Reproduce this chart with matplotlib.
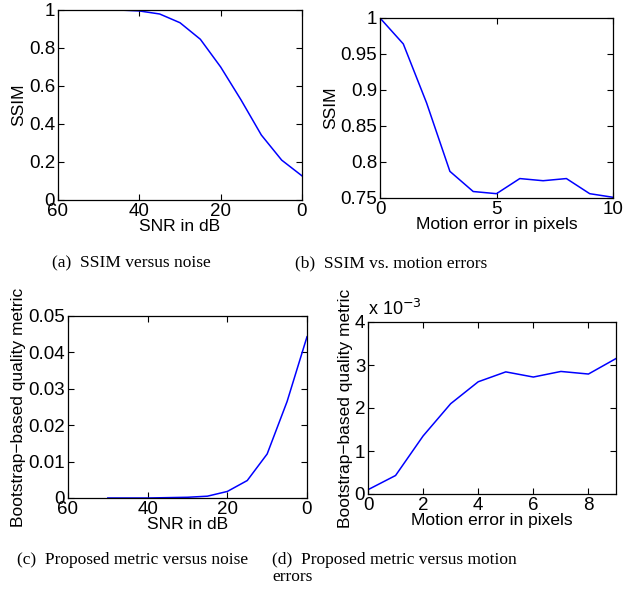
import matplotlib
matplotlib.use("Agg")
import matplotlib.pyplot as plt
from matplotlib.ticker import FuncFormatter

# ---- data ----
snr_db = [50, 45, 40, 35, 30, 25, 20, 15, 10, 5, 0]
ssim_noise = [1.0, 1.0, 0.995, 0.979, 0.933, 0.846, 0.700, 0.527, 0.342, 0.210, 0.127]

motion_a = [0, 1, 2, 3, 4, 5, 6, 7, 8, 9, 10]
ssim_motion = [1.0, 0.964, 0.882, 0.787, 0.759, 0.756, 0.777, 0.774, 0.777, 0.756, 0.751]

boot_noise = [0.0, 0.0, 0.0, 0.0001, 0.0002, 0.0005, 0.0018, 0.0048, 0.0121, 0.0265, 0.0443]

motion_b = [0, 1, 2, 3, 4, 5, 6, 7, 8, 9]
boot_motion = [0.10e-3, 0.43e-3, 1.35e-3, 2.10e-3, 2.61e-3, 2.84e-3, 2.72e-3, 2.85e-3, 2.79e-3, 3.15e-3]

captions = ["(a)  SSIM versus noise", "(b)  SSIM vs. motion errors",
            "(c)  Proposed metric versus noise", "(d)  Proposed metric versus motion\nerrors"]

W, H = 623, 594
fig = plt.figure(figsize=(W / 100, H / 100), dpi=100)
plt.rcParams['font.family'] = ['Liberation Sans', 'DejaVu Sans']

def box(l, t, r, b):
    return [l / W, 1 - b / H, (r - l) / W, (b - t) / H]

def style(ax):
    ax.tick_params(direction='in', top=True, right=True, length=4, width=0.8,
                   labelsize=13.5, pad=2, colors='black')
    for s in ax.spines.values():
        s.set_linewidth(0.9)

blue = (0, 0, 1)
fs_lab = 12.5

# (a)
ax = fig.add_axes(box(58, 10, 302, 200))
ax.plot(snr_db, ssim_noise, color=blue, lw=1.1)
ax.set_xlim(60, 0)
ax.set_ylim(0, 1)
ax.set_xticks([60, 40, 20, 0])
ax.set_yticks([0, 0.2, 0.4, 0.6, 0.8, 1])
ax.set_yticklabels(['0', '0.2', '0.4', '0.6', '0.8', '1'])
ax.set_xlabel('SNR in dB', fontsize=fs_lab, labelpad=-0.5)
ax.set_ylabel('SSIM', fontsize=fs_lab, labelpad=2)
style(ax)

# (b)
ax = fig.add_axes(box(380, 18, 613, 198))
ax.plot(motion_a, ssim_motion, color=blue, lw=1.1)
ax.set_xlim(0, 10)
ax.set_ylim(0.75, 1)
ax.set_xticks([0, 5, 10])
ax.set_yticks([0.75, 0.8, 0.85, 0.9, 0.95, 1])
ax.set_yticklabels(['0.75', '0.8', '0.85', '0.9', '0.95', '1'])
ax.set_xlabel('Motion error in pixels', fontsize=fs_lab, labelpad=-0.5)
ax.set_ylabel('SSIM', fontsize=fs_lab, labelpad=2)
style(ax)

# (c)
ax = fig.add_axes(box(68, 316, 307, 498))
ax.plot(snr_db, boot_noise, color=blue, lw=1.1)
ax.set_xlim(60, 0)
ax.set_ylim(0, 0.05)
ax.set_xticks([60, 40, 20, 0])
ax.set_yticks([0, 0.01, 0.02, 0.03, 0.04, 0.05])
ax.set_yticklabels(['0', '0.01', '0.02', '0.03', '0.04', '0.05'])
ax.set_xlabel('SNR in dB', fontsize=fs_lab, labelpad=-0.5)
ax.set_ylabel('Bootstrap\u2212based quality metric', fontsize=fs_lab, labelpad=2)
style(ax)

# (d)
ax = fig.add_axes(box(368, 322, 616, 494))
ax.plot(motion_b, boot_motion, color=blue, lw=1.1)
ax.set_xlim(0, 9)
ax.set_ylim(0, 4e-3)
ax.set_xticks([0, 2, 4, 6, 8])
ax.set_yticks([0, 1e-3, 2e-3, 3e-3, 4e-3])
ax.yaxis.set_major_formatter(FuncFormatter(lambda v, p: f"{v * 1e3:g}"))
ax.set_xlabel('Motion error in pixels', fontsize=fs_lab, labelpad=-0.5)
ax.set_ylabel('Bootstrap\u2212based quality metric', fontsize=fs_lab, labelpad=1)
ax.text(0.0, 1.015, r'x 10$^{-3}$', transform=ax.transAxes, fontsize=13,
        ha='left', va='bottom')
style(ax)

# captions
cap_kw = dict(family=['Liberation Serif', 'DejaVu Serif'], fontsize=12.5)
fig.text(131 / W, 1 - 263 / H, captions[0], ha='center', va='center', **cap_kw)
fig.text(391 / W, 1 - 263 / H, captions[1], ha='center', va='center', **cap_kw)
fig.text(17 / W, 1 - 560 / H, captions[2], ha='left', va='center', **cap_kw)
fig.text(272 / W, 1 - 552 / H, captions[3], ha='left', va='top', linespacing=1.1, **cap_kw)

fig.savefig('out.png', dpi=100)
